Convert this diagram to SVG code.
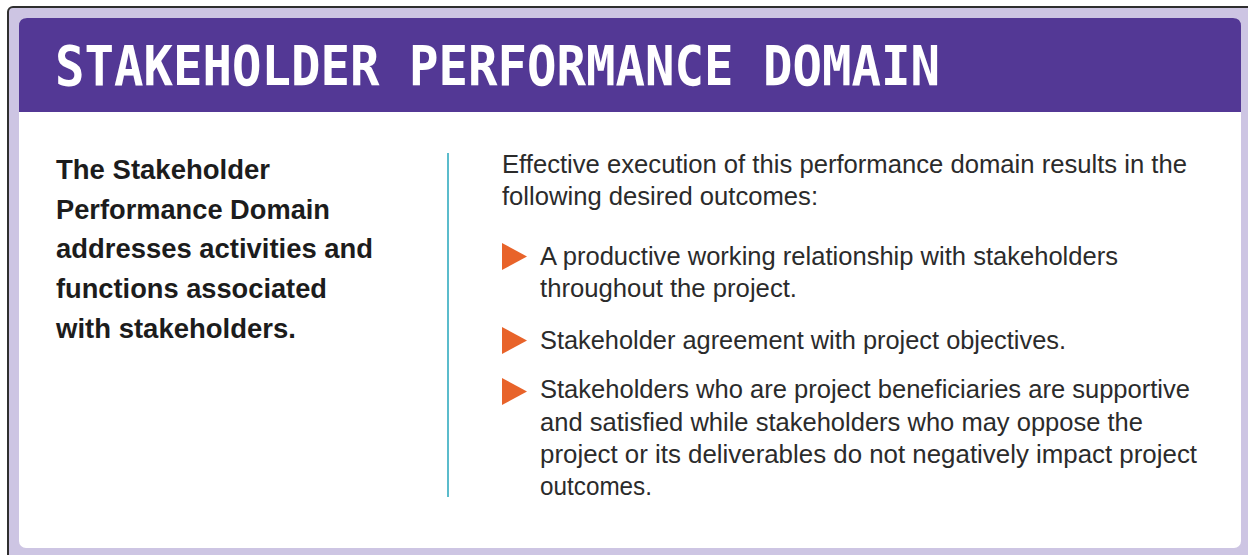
<svg xmlns="http://www.w3.org/2000/svg" width="1248" height="555" viewBox="0 0 1248 555">
<style>
.title{font-family:"DejaVu Sans Mono","Liberation Mono",monospace;font-weight:bold;font-size:55px;fill:#ffffff}
.lead{font-family:"Liberation Sans",Arial,sans-serif;font-weight:bold;font-size:27.5px;fill:#1c1c1c}
.body{font-family:"Liberation Sans",Arial,sans-serif;font-size:26.5px;fill:#2b2b2b}
.bullet{fill:#e8632a}
</style>
<rect width="1248" height="555" fill="#ffffff"/>
<g id="frame">
<rect x="8" y="7" width="1260" height="570" rx="5" fill="#cdc5e3" stroke="#2f2f2f" stroke-width="2"/>
<rect x="19" y="18" width="1222" height="530" rx="7" fill="#ffffff"/>
<path d="M19 112 V26 Q19 18 27 18 H1233 Q1241 18 1241 26 V112 Z" fill="#533895"/>
</g>
<g id="title">
<text class="title" x="55" y="85" textLength="885" lengthAdjust="spacingAndGlyphs">STAKEHOLDER PERFORMANCE DOMAIN</text>
</g>
<g id="lead-text">
<text class="lead" x="56" y="179" textLength="214" lengthAdjust="spacingAndGlyphs">The Stakeholder</text>
<text class="lead" x="56" y="219" textLength="274" lengthAdjust="spacingAndGlyphs">Performance Domain</text>
<text class="lead" x="56" y="258" textLength="317" lengthAdjust="spacingAndGlyphs">addresses activities and</text>
<text class="lead" x="56" y="298" textLength="271" lengthAdjust="spacingAndGlyphs">functions associated</text>
<text class="lead" x="56" y="338" textLength="240" lengthAdjust="spacingAndGlyphs">with stakeholders.</text>
</g>
<g id="divider">
<line x1="448" y1="153" x2="448" y2="497" stroke="#5bbccc" stroke-width="2"/>
</g>
<g id="outcomes">
<text class="body" x="502" y="173" textLength="685" lengthAdjust="spacingAndGlyphs">Effective execution of this performance domain results in the</text>
<text class="body" x="502" y="205" textLength="316" lengthAdjust="spacingAndGlyphs">following desired outcomes:</text>
</g>
<g id="bullet-1">
<polygon class="bullet" points="502,243 527,256.5 502,270"/>
<text class="body" x="540" y="265" textLength="578" lengthAdjust="spacingAndGlyphs">A productive working relationship with stakeholders</text>
<text class="body" x="540" y="297" textLength="257" lengthAdjust="spacingAndGlyphs">throughout the project.</text>
</g>
<g id="bullet-2">
<polygon class="bullet" points="502,327 527,340.5 502,354"/>
<text class="body" x="540" y="349" textLength="526" lengthAdjust="spacingAndGlyphs">Stakeholder agreement with project objectives.</text>
</g>
<g id="bullet-3">
<polygon class="bullet" points="502,378 527,391.5 502,405"/>
<text class="body" x="540" y="398" textLength="650" lengthAdjust="spacingAndGlyphs">Stakeholders who are project beneficiaries are supportive</text>
<text class="body" x="540" y="431" textLength="603" lengthAdjust="spacingAndGlyphs">and satisfied while stakeholders who may oppose the</text>
<text class="body" x="540" y="463" textLength="657" lengthAdjust="spacingAndGlyphs">project or its deliverables do not negatively impact project</text>
<text class="body" x="540" y="495" textLength="112" lengthAdjust="spacingAndGlyphs">outcomes.</text>
</g>
</svg>
